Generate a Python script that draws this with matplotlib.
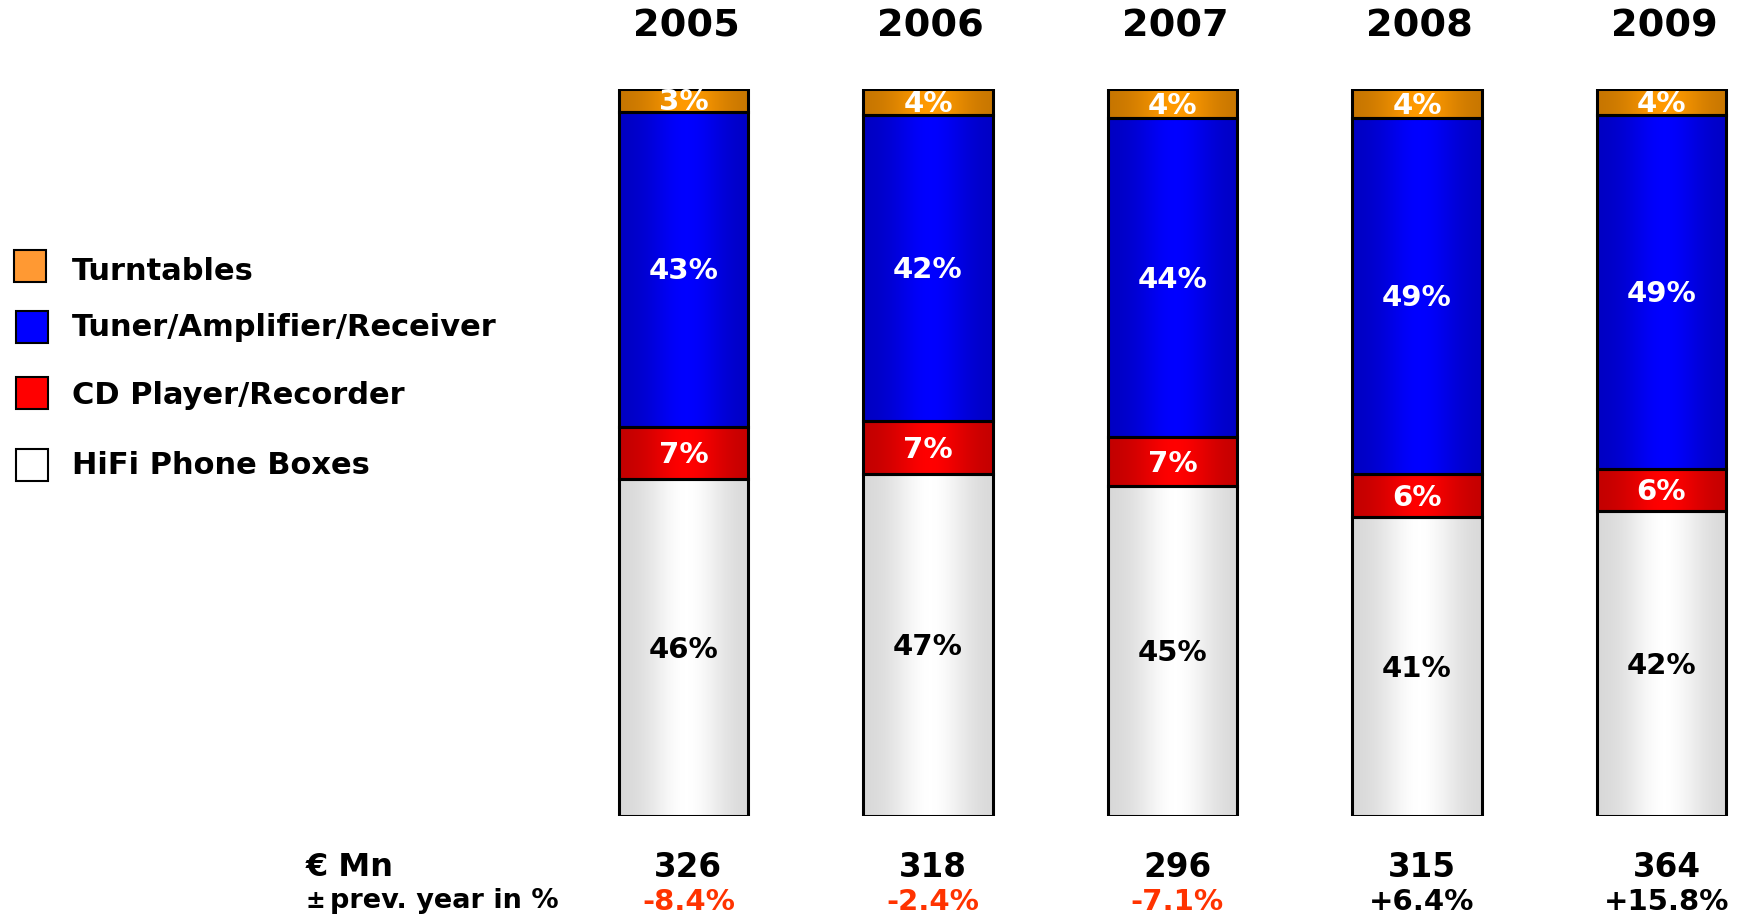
import numpy as np
import matplotlib
matplotlib.use("Agg")
import matplotlib.pyplot as plt
from matplotlib.colors import LinearSegmentedColormap
from matplotlib.patches import Rectangle

plt.rcParams["font.family"] = ["DejaVu Sans"]
plt.rcParams["font.weight"] = "bold"

years = ["2005", "2006", "2007", "2008", "2009"]
# shares in % of the yearly market, bottom to top
hifi_boxes = [46.4, 47.1, 45.4, 41.1, 41.9]
cd_player = [7.1, 7.2, 6.7, 6.0, 5.8]
tuner_amp = [43.4, 42.1, 43.9, 48.9, 48.7]
turntables = [3.1, 3.6, 4.0, 4.0, 3.6]
market_mn = [326, 318, 296, 315, 364]
change_pct = ["-8.4%", "-2.4%", "-7.1%", "+6.4%", "+15.8%"]

series = [
    ("HiFi Phone Boxes", hifi_boxes, "#d6d6d6", "#ffffff", "black"),
    ("CD Player/Recorder", cd_player, "#c00000", "#ff0000", "white"),
    ("Tuner/Amplifier/Receiver", tuner_amp, "#0000c0", "#0000ff", "white"),
    ("Turntables", turntables, "#c47400", "#ff9a00", "white"),
]

W, H = 1743, 916
fig = plt.figure(figsize=(W / 100, H / 100), dpi=100)

# axes placed so that bar centres sit at the right pixel columns
spacing = 244.5
x0_px = 683.5
left_px = 561
xmin = -(x0_px - left_px) / spacing
xmax = 4 + (W - (x0_px + 4 * spacing)) / spacing
y_bot, y_top = 816, 89
ax = fig.add_axes([left_px / W, (H - y_bot) / H, (W - left_px) / W, (y_bot - y_top) / H])
ax.set_xlim(xmin, xmax)
ax.set_ylim(0, 100)
ax.axis("off")

bar_w = 0.528
x = np.arange(len(years))
prof = np.linspace(0, 1, 256)
grad = np.exp(-((prof - 0.52) / 0.3) ** 2)[None, :]

bottom = np.zeros(len(years))
for name, vals, edge_c, mid_c, txt_c in series:
    cmap = LinearSegmentedColormap.from_list(name, [edge_c, mid_c])
    bars = ax.bar(x, vals, bar_w, bottom=bottom, facecolor="none",
                  edgecolor="black", linewidth=2.2, zorder=3)
    for b, v, bt in zip(bars, vals, bottom):
        img = ax.imshow(grad, cmap=cmap, vmin=0, vmax=1, aspect="auto",
                        extent=[b.get_x(), b.get_x() + bar_w, bt, bt + v],
                        zorder=1, interpolation="bilinear")
        img.set_clip_path(b)
        ax.text(b.get_x() + bar_w / 2, bt + v / 2 - 0.3, f"{v:.0f}%", ha="center",
                va="center", color=txt_c, fontsize=21, zorder=4)
    bottom += np.array(vals)
ax.set_xlim(xmin, xmax)
ax.set_ylim(0, 100)

for i, yr in enumerate(years):
    ax.text(x[i] + 0.01, 108.6, yr, ha="center", va="center", fontsize=27.5, clip_on=False)
    ax.text(x[i] + 0.02, -7.1, str(market_mn[i]), ha="center", va="center",
            fontsize=23.5, clip_on=False)
    c = "#ff3300" if change_pct[i].startswith("-") else "black"
    ax.text(x[i] + 0.02, -11.8, change_pct[i], ha="center", va="center",
            fontsize=21, color=c, clip_on=False)

fig.text(306 / W, 1 - 867 / H, "€ Mn", ha="left", va="center", fontsize=23)
fig.text(305 / W, 1 - 901 / H, "±", ha="left", va="center", fontsize=17)
fig.text(330 / W, 1 - 901 / H, "prev. year in %", ha="left", va="center", fontsize=19.5)

# legend, top to bottom
legend_rows = [("Turntables", "#ff9933", 14, 266, 272),
               ("Tuner/Amplifier/Receiver", "#0000ff", 16, 327, 328),
               ("CD Player/Recorder", "#ff0000", 16, 393, 395),
               ("HiFi Phone Boxes", "white", 16, 465, 466)]
for label, col, sx, sy, ty in legend_rows:
    fig.patches.append(Rectangle((sx / W, 1 - (sy + 16) / H), 32 / W, 32 / H,
                                 transform=fig.transFigure, facecolor=col,
                                 edgecolor="black", linewidth=1.5))
    fig.text(72 / W, 1 - ty / H, label, ha="left", va="center", fontsize=22)

fig.savefig("out.png", dpi=100)
